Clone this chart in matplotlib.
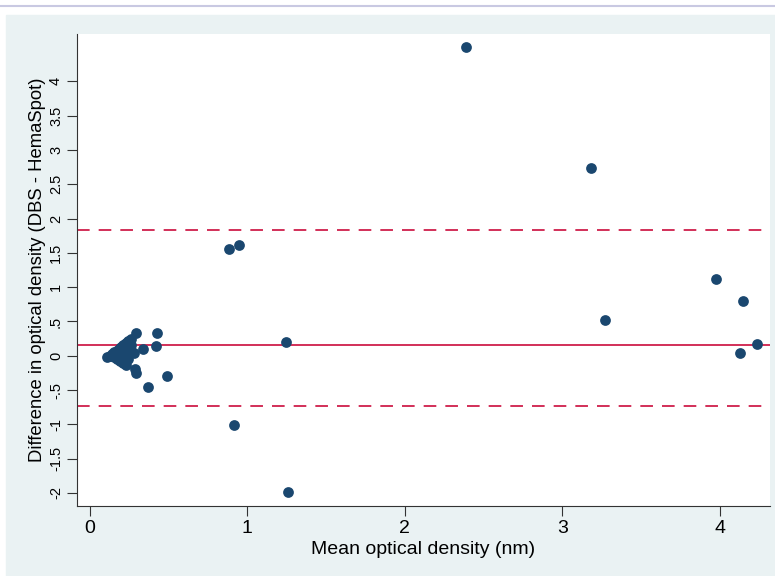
import matplotlib
matplotlib.use("Agg")
import matplotlib.pyplot as plt
from matplotlib.patches import Rectangle
from matplotlib.lines import Line2D

# mean optical density (x) and difference DBS - HemaSpot (y)
mean_od = [2.39, 3.18, 0.885, 0.95, 3.98, 4.15, 4.24, 4.13, 3.275,
           1.247, 0.917, 1.26, 0.49, 0.366, 0.425, 0.417, 0.34, 0.295,
           0.288, 0.29,
           0.11, 0.13, 0.14, 0.15, 0.16, 0.17, 0.18, 0.18, 0.19, 0.19,
           0.20, 0.20, 0.21, 0.21, 0.22, 0.22, 0.23, 0.23, 0.24, 0.24,
           0.25, 0.25, 0.26, 0.27, 0.28, 0.15, 0.17, 0.20, 0.22, 0.24,
           0.26, 0.21, 0.19]
diff_od = [4.50, 2.73, 1.56, 1.62, 1.12, 0.80, 0.165, 0.04, 0.52,
           0.20, -1.01, -1.98, -0.29, -0.46, 0.33, 0.135, 0.10, 0.33,
           -0.19, -0.25,
           -0.02, 0.00, 0.03, 0.05, 0.02, 0.07, 0.09, -0.03, 0.11, 0.02,
           0.13, -0.06, 0.15, 0.04, 0.17, -0.10, 0.19, -0.13, 0.21, 0.05,
           0.22, 0.10, 0.24, 0.05, 0.04, -0.02, -0.05, 0.07, -0.07, -0.04,
           0.16, -0.11, -0.08]

mean_diff = 0.15
upper_loa = 1.84
lower_loa = -0.73

x_ticks = [0, 1, 2, 3, 4]
y_ticks = [-2, -1.5, -1, -0.5, 0, 0.5, 1, 1.5, 2, 2.5, 3, 3.5, 4]
y_tick_labels = ["-2", "-1.5", "-1", "-.5", "0", ".5", "1", "1.5", "2",
                 "2.5", "3", "3.5", "4"]

plt.rcParams['font.family'] = ['Liberation Sans', 'DejaVu Sans']

fig = plt.figure(figsize=(7.75, 5.76), dpi=100)
fig.patch.set_facecolor('white')

# ---- outer panel + thin line at top
fig.patches.append(Rectangle((6 / 775, 0), 1, (576 - 15) / 576,
                             transform=fig.transFigure, color='#eaf2f3',
                             zorder=-5))
fig.lines.append(Line2D([0, 1], [1 - 6 / 576, 1 - 6 / 576],
                        transform=fig.transFigure, color='#c9c9e2', lw=1.5,
                        zorder=-5))

ax = fig.add_axes([77 / 775, (576 - 506) / 576, 693 / 775, 472 / 576])
ax.set_zorder(1)
ax.set_facecolor('white')

red = '#cf1f4b'
ax.axhline(mean_diff, color=red, lw=1.3, zorder=1)
ax.axhline(upper_loa, color=red, lw=1.3, ls=(0, (7, 5)), zorder=1)
ax.axhline(lower_loa, color=red, lw=1.3, ls=(0, (7, 5)), zorder=1)

ax.scatter(mean_od, diff_od, s=60, color='#1a476f', zorder=3,
           linewidths=0)

ax.set_xlim(-0.082, 4.32)
ax.set_ylim(-2.19, 4.69)

ax.set_xticks(x_ticks)
ax.set_xticklabels([str(t) for t in x_ticks], fontsize=14)
ax.set_yticks(y_ticks)
ax.set_yticklabels(y_tick_labels, rotation=90, va='center', fontsize=10.5)

ax.tick_params(axis='both', direction='out', length=7, width=0.8,
               color='#333333', pad=3)

for s in ['top', 'right']:
    ax.spines[s].set_visible(False)
for s in ['left', 'bottom']:
    ax.spines[s].set_color('#333333')
    ax.spines[s].set_linewidth(0.8)

ax.set_xlabel('Mean optical density (nm)', fontsize=14, labelpad=3)
ax.set_ylabel('Difference in optical density (DBS - HemaSpot)', fontsize=13.3,
              labelpad=2)

plt.savefig('out.png', dpi=100, facecolor=fig.get_facecolor())
plt.close()
